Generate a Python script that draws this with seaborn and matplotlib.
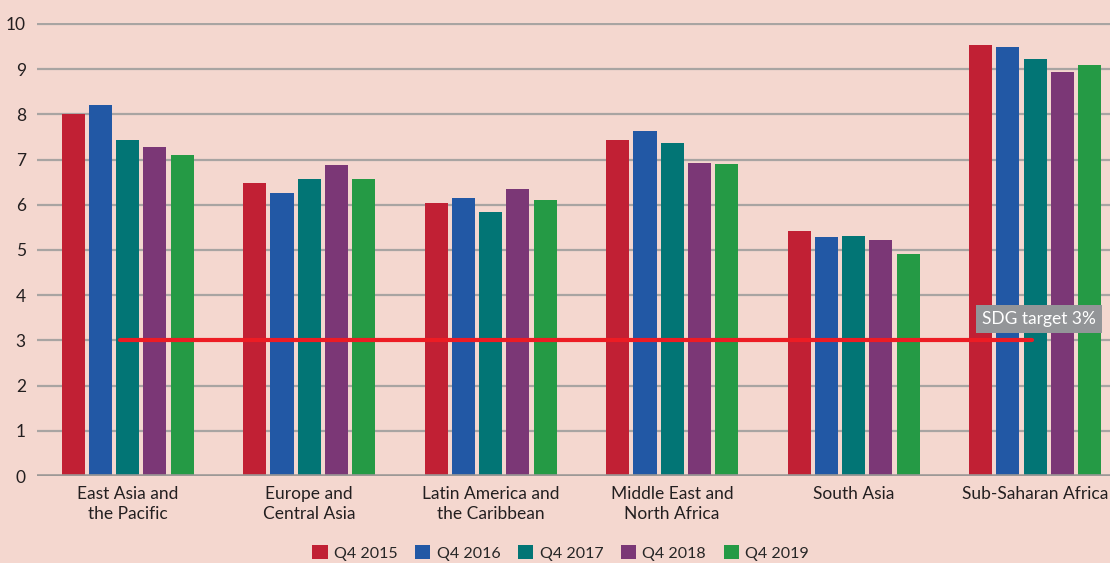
import pandas as pd
import numpy as np
import seaborn as sns
import matplotlib.pyplot as plt

# data
regions = ['East Asia and\nthe Pacific', 'Europe and\nCentral Asia',
           'Latin America and\nthe Caribbean', 'Middle East and\nNorth Africa',
           'South Asia', 'Sub-Saharan Africa']
quarters = ['Q4 2015', 'Q4 2016', 'Q4 2017', 'Q4 2018', 'Q4 2019']
q4_2015 = [8.0, 6.49, 6.03, 7.44, 5.43, 9.54]
q4_2016 = [8.2, 6.27, 6.14, 7.64, 5.28, 9.49]
q4_2017 = [7.44, 6.58, 5.83, 7.37, 5.32, 9.23]
q4_2018 = [7.28, 6.89, 6.34, 6.93, 5.23, 8.94]
q4_2019 = [7.1, 6.56, 6.1, 6.9, 4.9, 9.1]
sdg_target = 3

colors = ['#C12034', '#2258A5', '#027575', '#7B3776', '#259A45']
bg = '#F4D7CF'

rows = []
for q, vals in zip(quarters, [q4_2015, q4_2016, q4_2017, q4_2018, q4_2019]):
    for r, v in zip(regions, vals):
        rows.append({'region': r, 'quarter': q, 'value': v})
df = pd.DataFrame(rows)

sns.set_theme(style='white')
plt.rcParams['font.family'] = ['Lato', 'DejaVu Sans']

fig = plt.figure(figsize=(11.1, 5.63), dpi=100, facecolor=bg)
ax = fig.add_axes([0.0333, 0.1545, 0.981, 0.8046])
ax.set_facecolor(bg)

sns.barplot(data=df, x='region', y='value', hue='quarter', palette=colors,
            width=0.75, gap=0.15, saturation=1, linewidth=0, ax=ax, zorder=3)

ax.set_ylim(0, 10.02)
ax.set_xlim(-0.5, 5.5)
ax.set_yticks(range(0, 11))
for y in range(1, 11):
    ax.axhline(y, color='#A8A4A2', lw=1.6, zorder=1)
ax.axhline(0, color='#9C9896', lw=2.6, zorder=4)
for s in ax.spines.values():
    s.set_visible(False)
ax.tick_params(axis='both', length=0, labelsize=12.5, colors='#231F20')
ax.tick_params(axis='y', pad=8)
ax.tick_params(axis='x', pad=7)
for lab in ax.get_xticklabels():
    lab.set_linespacing(1.35)
ax.set_xlabel('')
ax.set_ylabel('')

# SDG target line
ax.plot([-0.04, 4.98], [sdg_target, sdg_target], color='#ED1C24', lw=3,
        solid_capstyle='round', zorder=5)
ax.text(5.02, 3.47, 'SDG target 3%', color='white', fontsize=12.5,
        ha='center', va='center', zorder=6,
        bbox=dict(boxstyle='square,pad=0.35', facecolor='#939598', edgecolor='none'))

sns.move_legend(ax, 'center', bbox_to_anchor=(0.481, -0.17), ncol=5,
                frameon=False, title=None, fontsize=11.5, handlelength=0.95,
                handleheight=0.95, handletextpad=0.4, columnspacing=1.1,
                borderpad=0.2)

fig.savefig('out.png', dpi=100, facecolor=bg)
